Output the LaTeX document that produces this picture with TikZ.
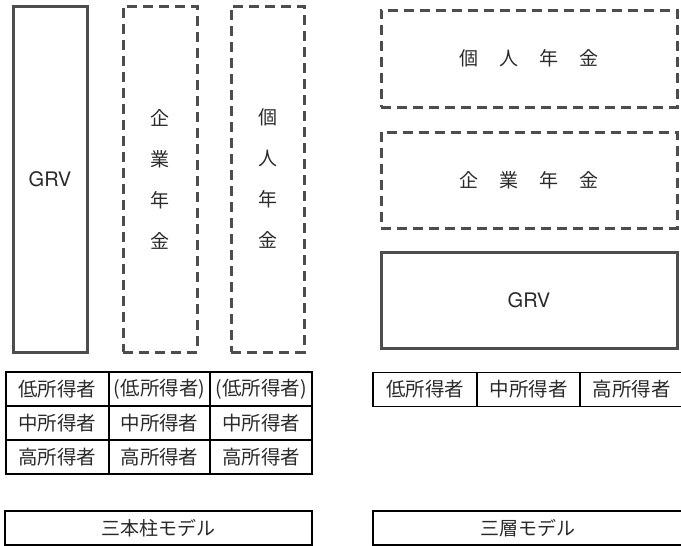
\documentclass[tikz,border=0pt]{standalone}
\usepackage{fontspec}
\setmainfont{Noto Sans CJK JP}
\newfontfamily\grvfont{TeX Gyre Heros}
\definecolor{boxgray}{HTML}{4D4D4D}
\definecolor{txt}{HTML}{2A2A2A}
\begin{document}
\begin{tikzpicture}[x=1pt,y=-1pt,
  solidbox/.style={draw=boxgray,line width=3pt,rectangle,inner sep=0pt,text=txt},
  dashbox/.style={draw=boxgray,line width=3pt,rectangle,inner sep=0pt,dash pattern=on 10pt off 6pt,text=txt},
  cell/.style={draw=black,line width=1.8pt,rectangle,inner sep=0pt,minimum height=34pt,text=txt,font=\fontsize{19.5}{21}\selectfont},
  grvtext/.style={font=\grvfont\fontsize{20}{22}\selectfont},
  vtext/.style={font=\fontsize{19}{41}\selectfont,align=center,text=txt},
  htext/.style={font=\fontsize{19}{21}\selectfont,text=txt}]
\useasboundingbox (0,0) rectangle (681,546);
% three pillars
\node[solidbox,minimum width=74pt,minimum height=346pt,grvtext] (grvA) at (50,179) {GRV};
\node[dashbox,minimum width=74pt,minimum height=346pt] (kigyoA) at (160,179) {};
\node[vtext] (kigyoAt) at (kigyoA.center) {企\\業\\年\\金};
\node[dashbox,minimum width=73pt,minimum height=346pt] (kojinA) at (267.5,179) {};
\node[vtext] (kojinAt) at (kojinA.center) {個\\人\\年\\金};
% three layers
\newcommand{\spc}[1]{\makebox[40pt]{#1}}
\node[dashbox,minimum width=296pt,minimum height=97pt,htext] (kojinB) at (529,58.5) {\spc{個}\spc{人}\spc{年}\spc{金}};
\node[dashbox,minimum width=296pt,minimum height=96pt,htext] (kigyoB) at (529,180) {\spc{企}\spc{業}\spc{年}\spc{金}};
\node[solidbox,minimum width=296pt,minimum height=96pt,grvtext] (grvB) at (529,300) {GRV};
% left table
\node[cell,minimum width=103pt] (l11) at (57.5,389) {低所得者};
\node[cell,minimum width=101pt] (l12) at (159.5,389) {(低所得者)};
\node[cell,minimum width=102pt] (l13) at (261,389) {(低所得者)};
\node[cell,minimum width=103pt] (l21) at (57.5,423) {中所得者};
\node[cell,minimum width=101pt] (l22) at (159.5,423) {中所得者};
\node[cell,minimum width=102pt] (l23) at (261,423) {中所得者};
\node[cell,minimum width=103pt] (l31) at (57.5,457) {高所得者};
\node[cell,minimum width=101pt] (l32) at (159.5,457) {高所得者};
\node[cell,minimum width=102pt] (l33) at (261,457) {高所得者};
% right table
\node[cell,minimum width=104pt] (r1) at (425,389.5) {低所得者};
\node[cell,minimum width=103pt] (r2) at (528.5,389.5) {中所得者};
\node[cell,minimum width=103pt] (r3) at (631.5,389.5) {高所得者};
% bottom labels
\node[cell,minimum width=307pt,minimum height=34pt,font=\fontsize{19}{21}\selectfont] (labA) at (158.5,528) {三本柱モデル};
\node[cell,minimum width=310pt,minimum height=34pt,font=\fontsize{19}{21}\selectfont] (labB) at (528,528) {三層モデル};
\end{tikzpicture}
\end{document}
